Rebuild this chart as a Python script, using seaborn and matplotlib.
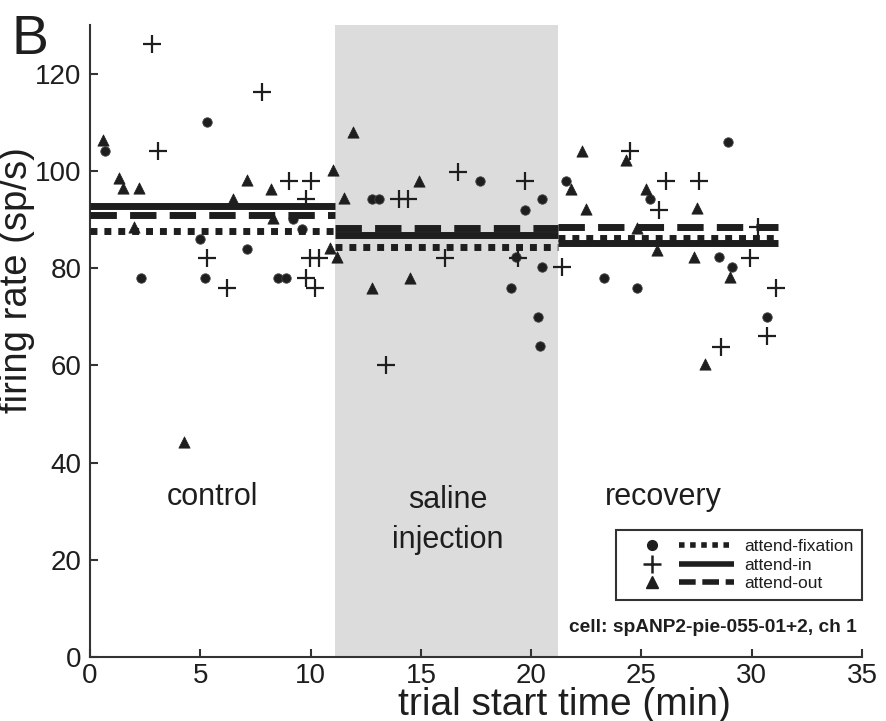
import matplotlib
matplotlib.use("Agg")
import matplotlib.pyplot as plt
import seaborn as sns
import pandas as pd
from matplotlib.lines import Line2D
from matplotlib.legend_handler import HandlerTuple

# ---- data ----
fix_t = [0.7, 2.3, 5.0, 5.2, 5.3, 7.1, 8.5, 8.9, 9.2, 9.6,
         12.8, 13.1, 17.7, 19.1, 19.3, 19.7, 20.3, 20.4, 20.5, 20.5,
         21.6, 23.3, 24.8, 25.4, 28.5, 28.9, 29.1, 30.7]
fix_r = [104, 78, 86, 78, 110, 84, 78, 78, 90, 88,
         94.2, 94.2, 98, 76, 82.3, 92, 70, 64, 94.2, 80.2,
         98, 78, 76, 94.2, 82.3, 106, 80.2, 70]

in_t = [2.8, 3.1, 5.3, 6.2, 7.8, 9.0, 9.8, 9.8, 10.0, 9.95, 10.4, 10.2,
        13.4, 14.0, 14.4, 16.1, 16.7, 19.4, 19.7,
        21.4, 24.5, 25.8, 26.1, 27.6, 28.6, 29.9, 30.3, 30.7, 31.1]
in_r = [126, 104, 82, 76, 116.3, 98, 94.2, 78, 98, 82, 82, 76,
        60, 94.2, 94.2, 82, 99.8, 82, 98,
        80.2, 104, 92, 98, 98, 63.8, 82, 88.5, 66, 76]

out_t = [0.6, 1.3, 1.5, 2.2, 2.0, 4.25, 6.5, 7.1, 8.2, 8.3, 10.9, 11.0, 11.2,
         11.5, 11.9, 12.8, 14.5, 14.9,
         21.8, 22.3, 22.5, 24.3, 24.8, 25.2, 25.7, 27.4, 27.5, 27.9, 29.0]
out_r = [106.4, 98.5, 96.5, 96.5, 88.4, 44.3, 94.3, 98.2, 96.3, 90.3, 84.2, 100.2, 82.3,
         94.4, 108, 76, 78, 98,
         96.2, 104, 92.2, 102.3, 88.3, 96.3, 83.7, 82.3, 92.4, 60.3, 78.2]

epoch_start = [0.0, 11.1, 21.2]
epoch_end = [11.1, 21.2, 31.2]
fix_mean = [87.6, 84.4, 86.2]
in_mean = [92.8, 86.9, 85.1]
out_mean = [90.9, 88.3, 88.5]

conditions = ["attend-fixation", "attend-in", "attend-out"]
epoch_names = ["control", "saline\ninjection", "recovery"]
cell_label = "cell: spANP2-pie-055-01+2, ch 1"

# ---- styling ----
sns.set_theme(style="ticks")
plt.rcParams["font.family"] = ["Liberation Sans", "DejaVu Sans"]
ink = "#1e1e1e"

fig = plt.figure(figsize=(8.87, 7.21), dpi=100)
ax = fig.add_axes([0.1015, 0.0888, 0.8704, 0.8765])

ax.axvspan(epoch_start[1], epoch_end[1], color="#dcdcdc", lw=0, zorder=0)

df_fix = pd.DataFrame({"t": fix_t, "r": fix_r})
df_in = pd.DataFrame({"t": in_t, "r": in_r})
df_out = pd.DataFrame({"t": out_t, "r": out_r})

sns.scatterplot(data=df_fix, x="t", y="r", marker="o", s=46, color=ink,
                edgecolor="#444444", linewidth=0.6, ax=ax, zorder=3)
sns.scatterplot(data=df_in, x="t", y="r", marker="+", s=150, color=ink,
                linewidth=1.6, ax=ax, zorder=3)
sns.scatterplot(data=df_out, x="t", y="r", marker="^", s=66, color=ink,
                edgecolor=ink, linewidth=0.5, ax=ax, zorder=3)

dot_style = (0, (1, 1))
dash_style = (0, (3.8, 1.9))
for s, e, m in zip(epoch_start, epoch_end, fix_mean):
    ax.plot([s, e], [m, m], color=ink, lw=5, linestyle=dot_style,
            dash_capstyle="butt", zorder=4)
for s, e, m in zip(epoch_start, epoch_end, in_mean):
    ax.plot([s, e], [m, m], color=ink, lw=5, linestyle="-",
            solid_capstyle="butt", zorder=4)
for s, e, m in zip(epoch_start, epoch_end, out_mean):
    ax.plot([s, e], [m, m], color=ink, lw=5, linestyle=dash_style,
            dash_capstyle="butt", zorder=4)

ax.set_xlim(0, 35)
ax.set_ylim(0, 130)
ax.set_xticks([0, 5, 10, 15, 20, 25, 30, 35])
ax.set_yticks([0, 20, 40, 60, 80, 100, 120])
sns.despine(ax=ax)
for sp in ["left", "bottom"]:
    ax.spines[sp].set_linewidth(1.5)
    ax.spines[sp].set_color("#333333")
ax.tick_params(direction="in", length=6, width=1.5, color="#333333",
               labelsize=20, labelcolor=ink)
ax.tick_params(axis="y", pad=6)
ax.tick_params(axis="x", pad=4)

ax.set_xlabel("trial start time (min)", fontsize=28, color=ink)
ax.set_ylabel("firing rate (sp/s)", fontsize=27.5, color=ink)
ax.xaxis.set_label_coords(0.614, -0.047)
ax.yaxis.set_label_coords(-0.071, 0.597)

# epoch names
ax.text(5.57, 32.9, epoch_names[0], ha="center", va="center", fontsize=22, color=ink)
ax.text(16.2, 28.2, epoch_names[1], ha="center", va="center", fontsize=22,
        color=ink, linespacing=1.42)
ax.text(26.0, 32.9, epoch_names[2], ha="center", va="center", fontsize=22, color=ink)

ax.text(34.75, 6.0, cell_label, ha="right", va="center", fontsize=13.8,
        fontweight="bold", color=ink)

fig.text(0.034, 0.945, "B", fontsize=40, ha="center", va="center", color=ink)

# legend: marker + line per condition
mk_fix = Line2D([], [], marker="o", ls="none", color=ink, markersize=7)
mk_in = Line2D([], [], marker="+", ls="none", color=ink, markersize=13, markeredgewidth=1.8)
mk_out = Line2D([], [], marker="^", ls="none", color=ink, markersize=8)
ln_fix = Line2D([], [], color=ink, lw=4, linestyle=(0, (1, 1)), dash_capstyle="butt")
ln_in = Line2D([], [], color=ink, lw=4, linestyle="-", solid_capstyle="butt")
ln_out = Line2D([], [], color=ink, lw=4, linestyle=(0, (3, 1.2)), dash_capstyle="butt")
leg = ax.legend([(mk_fix, ln_fix), (mk_in, ln_in), (mk_out, ln_out)], conditions,
                handler_map={tuple: HandlerTuple(ndivide=None, pad=0.0)},
                loc="lower right", bbox_to_anchor=(1.0, 0.09), borderaxespad=0,
                fontsize=12.5, handlelength=6.3, handletextpad=0.6,
                labelspacing=0.2, fancybox=False, framealpha=1,
                edgecolor="#333333", borderpad=0.5)
leg.get_frame().set_linewidth(1.5)
for t in leg.get_texts():
    t.set_color(ink)

fig.savefig("out.png", dpi=100)
